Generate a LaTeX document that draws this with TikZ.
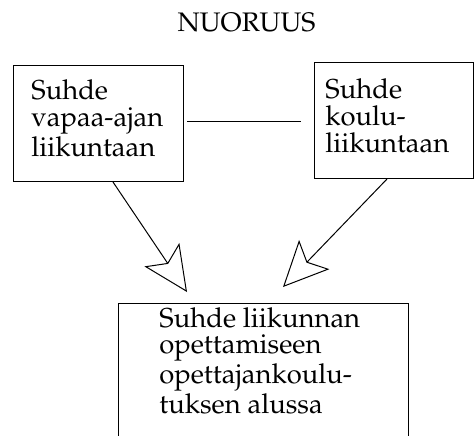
\documentclass[tikz,border=0pt]{standalone}
\IfFileExists{mathpazo.sty}
  {\usepackage[T1]{fontenc}\usepackage{mathpazo}}
  {\usepackage{fontspec}\setmainfont{Liberation Serif}}
\usetikzlibrary{arrows.meta,calc}

\tikzset{
  box/.style={draw, line width=0.5pt, rectangle, inner sep=0pt, anchor=north west},
  % multi-line labels are placed by the baseline of their last line
  label/.style={inner sep=0pt, anchor=base west, align=left,
    font=\fontsize{13.7pt}{13.35pt}\selectfont},
  link/.style={line width=0.5pt},
  flow/.style={line width=0.5pt,
    -{Stealth[open, length=22.5pt, width=21pt, inset=5pt, line width=0.5pt]}},
}

\begin{document}
\begin{tikzpicture}[x=0.5pt, y=-0.5pt]
  \useasboundingbox (0,0) rectangle (474,435);
  \clip (0,0) rectangle (474,435);

  % heading
  \node[inner sep=0pt, anchor=base, font=\fontsize{13.4pt}{13.35pt}\selectfont]
    (title) at (246.5,31) {NUORUUS};

  % upper boxes
  \node[box, minimum width=85pt, minimum height=58pt] (lbox) at (13,65) {};
  \node[label] (ltext) at (31,156) {Suhde\\vapaa-ajan\\liikuntaan};

  \node[box, minimum width=79.5pt, minimum height=58pt] (rbox) at (314,62) {};
  \node[label] (rtext) at (325,152) {Suhde\\koulu-\\liikuntaan};

  % lower box, running past the bottom edge
  \node[box, minimum width=145pt, minimum height=80pt] (bbox) at (118,303) {};
  \node[label] (btext) at (159,413)
    {Suhde liikunnan\\opettamiseen\\opettajankoulu-\\tuksen alussa};

  % link between the upper boxes
  \draw[link] ($(lbox.east)+(3,-2)$) -- ($(rbox.west)+(-13,1)$);

  % arrows towards the lower box
  \coordinate (tipL) at (187,292);
  \coordinate (tipR) at (283,287);
  \draw[flow] ($(lbox.south west)+(100,0)$) -- (tipL);
  \draw[flow] ($(rbox.south west)+(73,0)$) -- (tipR);
\end{tikzpicture}
\end{document}
